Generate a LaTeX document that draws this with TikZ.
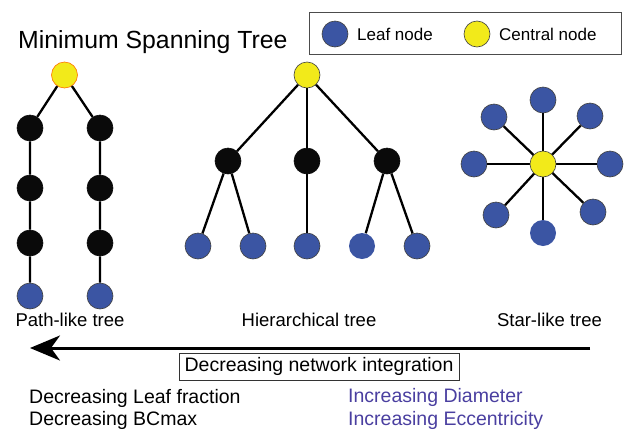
\documentclass[tikz,border=0pt]{standalone}
\usepackage{fontspec}
\setmainfont{Liberation Sans}
\usetikzlibrary{arrows.meta}
\definecolor{leafblue}{HTML}{3B55A3}
\definecolor{centyellow}{HTML}{F2EA1A}
\definecolor{nodeblack}{HTML}{0A0A0A}
\definecolor{txtblue}{HTML}{4A3FA0}
\tikzset{
  vtx/.style={circle, minimum size=26pt, inner sep=0pt, line width=0.6pt, draw=black!75},
  leaf/.style={vtx, fill=leafblue},
  leafnl/.style={vtx, fill=leafblue, draw=none},
  central/.style={vtx, fill=centyellow},
  inner/.style={vtx, fill=nodeblack, draw=nodeblack},
  edge/.style={line width=2.3pt, black},
  lbl/.style={font=\fontsize{18.5}{20}\selectfont, anchor=base},
  btxt/.style={font=\fontsize{19.5}{21}\selectfont, anchor=base west, inner sep=0pt}
}
\begin{document}
\begin{tikzpicture}[x=1pt,y=-1pt]
\useasboundingbox (0,0) rectangle (630,429);
% title
\node[anchor=base west, inner sep=0pt, font=\fontsize{24.8}{26}\selectfont] (title) at (18,48.5) {Minimum Spanning Tree};
% legend
\node[draw=black!70, line width=0.8pt, minimum width=312pt, minimum height=42pt, inner sep=0pt] (legend) at (465,33) {};
\node[leaf] (lgleaf) at (335,34) {};
\node[anchor=west, inner sep=0pt, font=\fontsize{17}{18}\selectfont] (lgleaft) at (357,34) {Leaf node};
\node[central] (lgcent) at (477,34) {};
\node[anchor=west, inner sep=0pt, font=\fontsize{17}{18}\selectfont] (lgcentt) at (499,34) {Central node};
% path-like tree
\node[central, draw=orange!90!red] (p0) at (64.5,75) {};
\node[inner] (pa1) at (30,128) {};
\node[inner] (pa2) at (30,188) {};
\node[inner] (pa3) at (30,243) {};
\node[leaf] (pa4) at (30,296) {};
\node[inner] (pb1) at (100,128) {};
\node[inner] (pb2) at (100,188) {};
\node[inner] (pb3) at (100,243) {};
\node[leaf] (pb4) at (100,296) {};
\draw[edge] (p0) -- (pa1) -- (pa2) -- (pa3) -- (pa4);
\draw[edge] (p0) -- (pb1) -- (pb2) -- (pb3) -- (pb4);
\node[lbl] (plbl) at (70,326) {Path-like tree};
% hierarchical tree
\node[central] (h0) at (307,75) {};
\node[inner] (h1) at (228,161) {};
\node[inner] (h2) at (307,161) {};
\node[inner] (h3) at (387,161) {};
\node[leaf] (h11) at (198,246) {};
\node[leaf] (h12) at (253,246) {};
\node[leaf] (h21) at (307,246) {};
\node[leafnl] (h31) at (362,246) {};
\node[leaf] (h32) at (417,246) {};
\draw[edge] (h0) -- (h1); \draw[edge] (h0) -- (h2); \draw[edge] (h0) -- (h3);
\draw[edge] (h1) -- (h11); \draw[edge] (h1) -- (h12);
\draw[edge] (h2) -- (h21);
\draw[edge] (h3) -- (h31); \draw[edge] (h3) -- (h32);
\node[lbl] (hlbl) at (309,326) {Hierarchical tree};
% star-like tree
\node[leaf] (s1) at (543,100) {};
\node[leaf] (s2) at (494,117) {};
\node[leaf] (s3) at (590,116) {};
\node[leaf] (s4) at (474,164) {};
\node[leaf] (s5) at (610,164) {};
\node[leaf] (s6) at (496,215) {};
\node[leaf] (s7) at (593,212) {};
\node[leafnl] (s8) at (543,233) {};
\coordinate (sc) at (543,164);
\foreach \s in {s1,s2,s3,s4,s5,s6,s7,s8} \draw[edge] (sc) -- (\s);
\node[central] (s0) at (sc) {};
\node[lbl] (slbl) at (549.5,326) {Star-like tree};
% arrow
\coordinate (arrR) at (590,348);
\coordinate (arrL) at (30,348);
\draw[line width=3pt, -{Stealth[length=30pt, width=25pt, inset=9pt]}] (arrR) -- (arrL);
\node[draw=black!80, line width=0.8pt, minimum width=280pt, minimum height=27pt, inner sep=0pt,
      font=\fontsize{19.5}{21}\selectfont] (integ) at (319,366.5) {Decreasing network integration};
% bottom text
\node[btxt] (t1) at (29,403) {Decreasing Leaf fraction};
\node[btxt] (t2) at (29,425) {Decreasing BCmax};
\node[btxt, text=txtblue] (t3) at (348,402) {Increasing Diameter};
\node[btxt, text=txtblue] (t4) at (348,425) {Increasing Eccentricity};
\end{tikzpicture}
\end{document}
